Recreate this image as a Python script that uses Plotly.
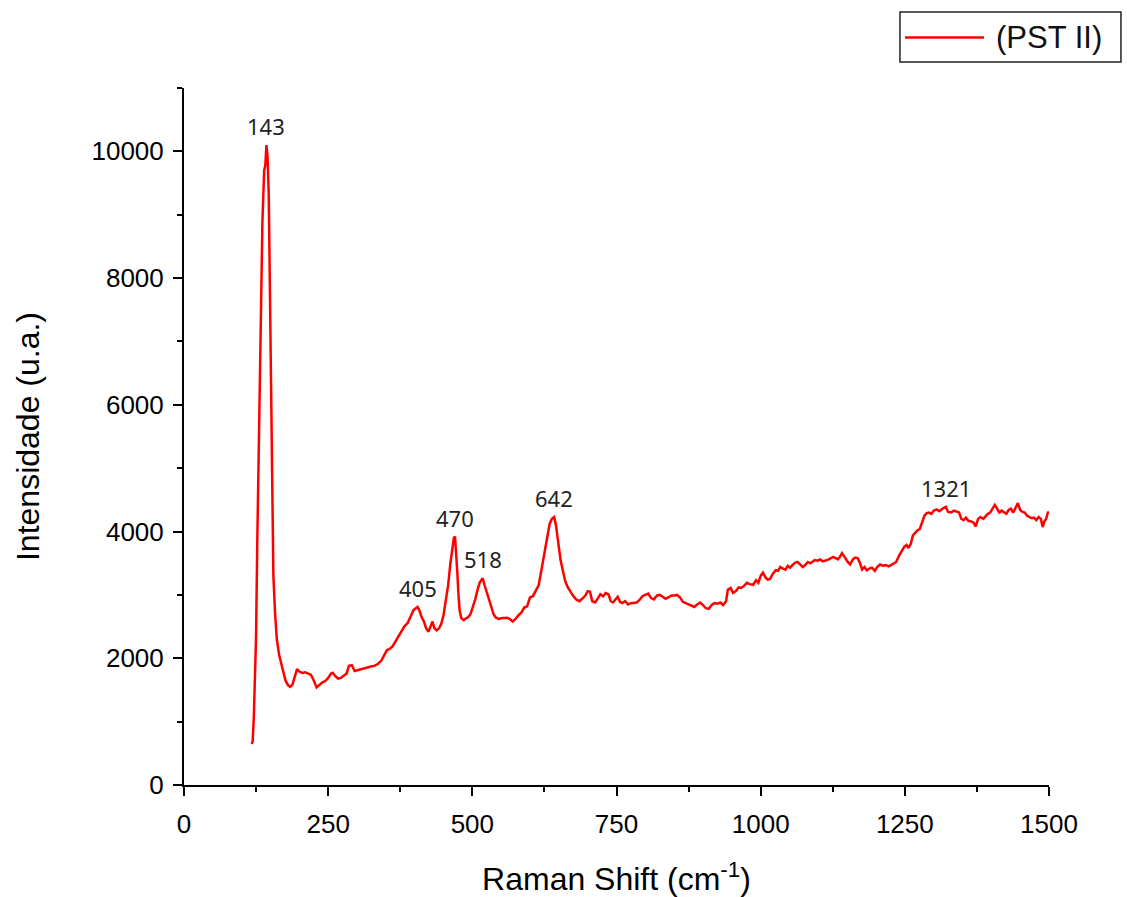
import plotly.graph_objects as go

# Raman spectrum of the PST II sample (Raman shift in cm-1, intensity in a.u.)
raman_shift = [
    117, 119, 121, 123, 125, 127, 130, 133, 136, 139, 141, 143, 145, 147, 149, 151, 153, 155, 158, 161,
    165, 169, 172, 176, 180, 184, 188, 192, 196, 200, 205, 210, 215, 220, 225, 230, 235, 240, 245, 250,
    255, 258, 262, 267, 272, 277, 282, 286, 291, 296, 300, 306, 312, 318, 324, 330, 336, 342, 347, 352,
    357, 362, 367, 372, 377, 382, 388, 393, 398, 402, 405, 408, 412, 416, 420, 424, 428, 431, 434, 438,
    442, 446, 450, 454, 458, 462, 465, 468, 470, 472, 474, 476, 478, 481, 485, 489, 493, 497, 501, 505,
    509, 513, 516, 518, 521, 525, 529, 533, 537, 541, 546, 550, 555, 560, 565, 570, 575, 580, 585, 590,
    595, 600, 605, 610, 615, 620, 625, 630, 634, 638, 642, 645, 649, 653, 657, 661, 665, 669, 673, 677,
    681, 686, 691, 696, 700, 704, 708, 713, 718, 722, 727, 731, 736, 740, 744, 748, 752, 756, 760, 765,
    770, 775, 780, 785, 790, 795, 800, 805, 810, 815, 820, 825, 830, 835, 840, 845, 850, 855, 860, 865,
    870, 875, 880, 885, 890, 895, 900, 905, 910, 915, 920, 925, 930, 935, 940, 943, 948, 952, 957, 962,
    966, 971, 976, 981, 987, 992, 996, 1000, 1004, 1008, 1012, 1016, 1021, 1026, 1030, 1034, 1038, 1043, 1047, 1051,
    1055, 1060, 1064, 1068, 1073, 1077, 1082, 1086, 1090, 1094, 1099, 1103, 1108, 1113, 1118, 1122, 1126, 1130, 1134, 1138,
    1141, 1144, 1148, 1151, 1155, 1160, 1164, 1168, 1172, 1176, 1180, 1184, 1189, 1193, 1198, 1202, 1207, 1212, 1217, 1222,
    1226, 1231, 1235, 1240, 1245, 1249, 1253, 1256, 1260, 1264, 1268, 1272, 1276, 1280, 1284, 1288, 1292, 1296, 1300, 1305,
    1310, 1315, 1321, 1325, 1330, 1335, 1340, 1344, 1348, 1352, 1356, 1360, 1365, 1369, 1373, 1377, 1381, 1386, 1390, 1394,
    1398, 1402, 1406, 1410, 1414, 1418, 1422, 1426, 1430, 1434, 1438, 1442, 1446, 1450, 1454, 1458, 1462, 1466, 1470, 1474,
    1478, 1482, 1486, 1489, 1492, 1495, 1498, 1500,
]

intensity = [
    650, 680, 1050, 1600, 2350, 3800, 5600, 7600, 8900, 9700, 9780, 10100, 9900, 9300, 7600, 5600, 4000, 3300, 2700, 2300,
    2050, 1900, 1800, 1650, 1580, 1550, 1580, 1700, 1830, 1790, 1770, 1780, 1760, 1740, 1650, 1540, 1580, 1620, 1640, 1690,
    1760, 1770, 1720, 1680, 1690, 1720, 1760, 1880, 1890, 1800, 1810, 1830, 1850, 1860, 1870, 1880, 1910, 1960, 2050, 2130,
    2150, 2190, 2270, 2350, 2420, 2500, 2560, 2660, 2760, 2790, 2810, 2760, 2650, 2580, 2470, 2420, 2520, 2580, 2480, 2440,
    2470, 2540, 2680, 2900, 3150, 3500, 3750, 3900, 3920, 3700, 3350, 3000, 2750, 2630, 2600, 2630, 2650, 2700, 2800, 2930,
    3080, 3200, 3240, 3260, 3160, 3040, 2900, 2780, 2690, 2640, 2620, 2630, 2640, 2640, 2620, 2580, 2620, 2680, 2720, 2800,
    2820, 2960, 2980, 3060, 3150, 3400, 3650, 3950, 4120, 4200, 4230, 4100, 3800, 3550, 3380, 3220, 3130, 3080, 3010, 2960,
    2920, 2900, 2950, 2990, 3060, 3050, 2900, 2880, 2950, 3010, 2980, 3030, 3010, 2900, 2880, 2920, 2970, 2890, 2870, 2900,
    2850, 2870, 2880, 2880, 2920, 2980, 3000, 3020, 2950, 2930, 2990, 3000, 2970, 2940, 2960, 2990, 2990, 3000, 2960, 2890,
    2870, 2850, 2830, 2810, 2850, 2880, 2840, 2790, 2780, 2840, 2870, 2860, 2880, 2840, 2900, 3080, 3110, 3030, 3060, 3120,
    3110, 3140, 3190, 3170, 3160, 3230, 3190, 3300, 3350, 3280, 3240, 3250, 3330, 3390, 3380, 3440, 3420, 3400, 3460, 3430,
    3470, 3510, 3520, 3480, 3440, 3470, 3520, 3500, 3520, 3550, 3540, 3560, 3530, 3540, 3560, 3580, 3600, 3580, 3560, 3610,
    3660, 3620, 3560, 3520, 3480, 3560, 3590, 3580, 3510, 3400, 3440, 3390, 3420, 3430, 3380, 3440, 3480, 3460, 3470, 3450,
    3470, 3500, 3520, 3620, 3710, 3760, 3790, 3740, 3800, 3940, 3980, 4020, 4040, 4140, 4250, 4290, 4300, 4280, 4330, 4350,
    4320, 4360, 4390, 4310, 4300, 4330, 4320, 4300, 4200, 4180, 4220, 4170, 4160, 4140, 4080, 4200, 4230, 4200, 4240, 4280,
    4300, 4360, 4420, 4360, 4300, 4330, 4310, 4280, 4340, 4360, 4300, 4380, 4450, 4340, 4310, 4300, 4250, 4230, 4210, 4220,
    4180, 4230, 4200, 4070, 4160, 4200, 4300, 4310,
]

# Labelled band positions (cm-1)
peak_labels = [143, 405, 470, 518, 642, 1321]

series_name = "(PST II)"
x_ticks = [0, 250, 500, 750, 1000, 1250, 1500]
y_ticks = [0, 2000, 4000, 6000, 8000, 10000]

RED = "rgb(255,0,0)"
AXIS_FONT = "Liberation Sans, Arial, sans-serif"

fig = go.Figure()
fig.add_trace(go.Scatter(
    x=raman_shift, y=intensity, mode="lines", name=series_name,
    line=dict(color=RED, width=2.5), showlegend=False,
))

# Peak labels, placed just above each labelled band
for p in peak_labels:
    idx = raman_shift.index(p)
    fig.add_annotation(
        x=p, y=intensity[idx], text=str(p), showarrow=False,
        xanchor="center", yanchor="bottom", yshift=2,
        font=dict(family="Noto Sans, Open Sans, sans-serif", size=22, color="#222222"),
    )

# Framed legend in the top-right corner
fig.add_shape(type="rect", xref="paper", yref="paper",
              x0=0.8277, x1=1.0832, y0=1.0373, y1=1.1090,
              line=dict(color="#222222", width=1.5), fillcolor="white")
fig.add_shape(type="line", xref="paper", yref="paper",
              x0=0.8335, x1=0.9249, y0=1.0725, y1=1.0725,
              line=dict(color=RED, width=2.5))
fig.add_annotation(xref="paper", yref="paper", x=0.9364, y=1.0725,
                   text=series_name, showarrow=False, xanchor="left", yanchor="middle",
                   font=dict(family=AXIS_FONT, size=31, color="#111111"))

fig.update_layout(
    width=1127, height=897,
    margin=dict(l=184, r=78, t=88, b=112),
    paper_bgcolor="white", plot_bgcolor="white",
    font=dict(family=AXIS_FONT, color="black"),
)

fig.update_xaxes(
    range=[0, 1500], tickmode="array", tickvals=x_ticks,
    ticktext=[str(v) for v in x_ticks],
    automargin=False,
    showgrid=False, zeroline=False,
    showline=True, linecolor="black", linewidth=2,
    ticks="outside", ticklen=9, tickwidth=2, tickcolor="black",
    ticklabelstandoff=6,
    minor=dict(dtick=125, tick0=0, ticks="outside", ticklen=5, tickwidth=2, tickcolor="black", showgrid=False),
    tickfont=dict(size=26, color="black"),
    title=dict(text="Raman Shift (cm<sup>-1</sup>)", font=dict(size=32, color="black"), standoff=30),
)
fig.update_yaxes(
    range=[0, 11000], tickmode="array", tickvals=y_ticks,
    ticktext=[str(v) for v in y_ticks],
    automargin=False,
    showgrid=False, zeroline=False,
    showline=True, linecolor="black", linewidth=2,
    ticks="outside", ticklen=9, tickwidth=2, tickcolor="black",
    ticklabelstandoff=4,
    minor=dict(dtick=1000, tick0=0, ticks="outside", ticklen=5, tickwidth=2, tickcolor="black", showgrid=False),
    tickfont=dict(size=26, color="black"),
    title=dict(text="Intensidade (u.a.)", font=dict(size=32, color="black"), standoff=42),
)

fig.write_html("out.html")
